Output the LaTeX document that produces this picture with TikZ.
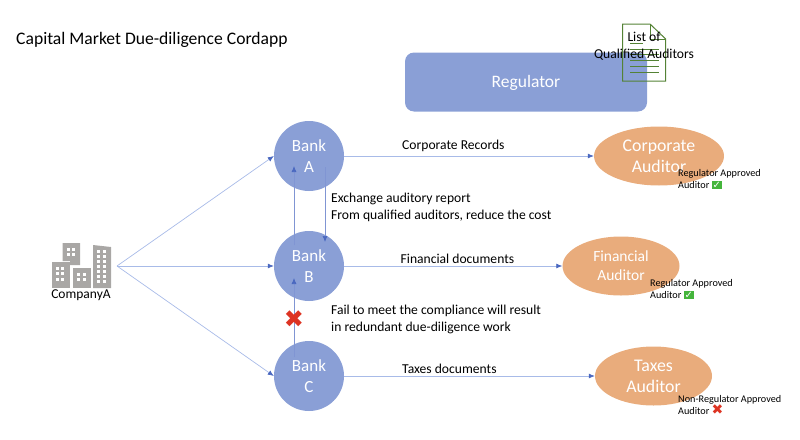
\documentclass[tikz,border=0pt]{standalone}
\usepackage{fontspec}
\setmainfont{Carlito}
\newfontfamily\dejavu{DejaVu Sans}
\usetikzlibrary{arrows.meta,shapes.geometric}
\definecolor{bluefill}{HTML}{8A9FD6}
\definecolor{orangefill}{HTML}{E9AC7C}
\definecolor{tipblue}{HTML}{4A68C0}
\definecolor{lineblue}{HTML}{A8BBE8}
\definecolor{docgreen}{HTML}{548235}
\definecolor{okgreen}{HTML}{45B53C}
\definecolor{nored}{HTML}{DD3322}
\definecolor{towergray}{HTML}{A9A7A5}
\newcommand{\okmark}{{\setlength{\fboxsep}{0.8pt}\colorbox{okgreen}{\textcolor{white}{\dejavu\fontsize{10}{9}\selectfont ✓}}}}
\newcommand{\nomark}{\textcolor{nored}{\dejavu\fontsize{14}{12}\selectfont ✖}}
\tikzset{
  bank/.style={circle, fill=bluefill, text=white, minimum size=70pt, inner sep=0pt, align=center, font=\fontsize{17}{21.5}\selectfont},
  auditor/.style={ellipse, fill=orangefill, text=white, minimum height=59pt, inner sep=0pt, align=center, font=\fontsize{17.8}{21}\selectfont},
  link/.style={draw=lineblue, line width=0.7pt, -{Latex[length=6pt,width=5pt,color=tipblue]}},
  uplink/.style={draw=tipblue!70, line width=0.7pt, -{Latex[length=6pt,width=5pt,color=tipblue]}},
  note/.style={anchor=west, align=left, font=\fontsize{13.6}{16.5}\selectfont, inner sep=0pt},
  tiny note/.style={anchor=west, align=left, font=\fontsize{10.2}{12}\selectfont, inner sep=0pt},
  tower/.style={fill=towergray, draw=none},
  pane/.style={fill=white, draw=none}
}
\begin{document}
\begin{tikzpicture}[x=1pt, y=-1pt]
  \useasboundingbox (0, 0) rectangle (800, 439);
  \node (title) [anchor=west, inner sep=0pt, font=\fontsize{17.6}{20}\selectfont] at (16, 40) {Capital Market Due-diligence Cordapp};
  % regulator and the list
  \node (regulator) [fill=bluefill, rounded corners=9pt, minimum width=242pt, minimum height=59pt, text=white, text depth=1pt, font=\fontsize{17.5}{20}\selectfont] at (526, 82) {Regulator};
  \draw[docgreen, line width=1pt] (622.7, 24) -- (650, 24) -- (665.7, 39) -- (665.7, 81) -- (622.7, 81) -- cycle;
  \draw[docgreen, line width=1pt] (650, 24) -- (650, 39) -- (665.7, 39);
  \draw[docgreen, line width=1pt] (630, 43) -- (643, 43);
  \foreach \y in {49, 54.5, 60, 66, 72}
  \draw[docgreen, line width=1pt] (630, \y) -- (659, \y);
  \node (list) [align=center, inner sep=0pt, font=\fontsize{13.6}{16.5}\selectfont] at (644, 46) {List of \\ Qualified Auditors};
  % company
  \draw[tower] (62.7, 243) -- (80, 243) -- (80, 265) -- (70, 265) -- (70, 261) -- (62.7, 261) -- cycle;
  \draw[tower] (52, 262) rectangle (70, 288);
  \draw[tower] (73, 268) rectangle (91, 288);
  \draw[tower] (93, 245) -- (111, 247) -- (111, 288) -- (93, 288) -- cycle;
  \foreach \x in {67, 72} \foreach \y in {248, 253}
  \fill[pane] (\x, \y) rectangle +(3, 3);
  \foreach \x in {56, 61} \foreach \y in {267, 272, 278}
  \fill[pane] (\x, \y) rectangle +(3, 3);
  \foreach \x in {77, 83} \foreach \y in {273, 278}
  \fill[pane] (\x, \y) rectangle +(3, 3);
  \foreach \x in {97, 103} \foreach \y in {250, 255, 260, 265, 270, 275, 280}
  \fill[pane] (\x, \y) rectangle +(3, 3);
  \node (company) [inner sep=0pt, font=\fontsize{13.5}{14}\selectfont] at (81, 295.5) {CompanyA};
  \coordinate (fan) at (117, 266);
  % banks
  \node (a) [bank] at (309, 156) {Bank \\ A};
  \node (b) [bank] at (309, 266) {Bank \\ B};
  \node (c) [bank] at (309, 376) {Bank \\ C};
  % auditors
  \node (corp) [auditor, minimum width=130pt] at (659, 156) {Corporate \\ Auditor};
  \node (fin) [auditor, minimum width=117pt, font=\fontsize{15.5}{19}\selectfont] at (621, 266) {Financial \\ Auditor};
  \node (tax) [auditor, minimum width=117pt] at (653.5, 376) {Taxes \\ Auditor};
  \draw[link] (fan) -- (a.west);
  \draw[link] (fan) -- (b.west);
  \draw[link] (fan) -- (c.west);
  \draw[link] (a) -- (corp);
  \draw[link] (b) -- (fin);
  \draw[link] (c) -- (tax);
  % between the banks
  \coordinate (bup) at (294, 245);
  \coordinate (aup) at (294, 166);
  \coordinate (adown) at (325, 167);
  \coordinate (bdown) at (325, 242);
  \coordinate (cup) at (294, 357);
  \coordinate (bin) at (294, 278);
  \draw[uplink] (bup) -- (aup);
  \draw[uplink] (adown) -- (bdown);
  \draw[uplink] (cup) -- (bin);
  \node (cross) [text=nored, inner sep=0pt, font=\dejavu\fontsize{24}{24}\selectfont] at (294, 319) {✖};
  % labels
  \node (corplabel) [note] at (402, 145.5) {Corporate Records};
  \node (finlabel) [note] at (400.5, 258.5) {Financial documents};
  \node (taxlabel) [note] at (402, 369) {Taxes documents};
  \node (exchange) [note] at (331, 207.5) {Exchange auditory report \\ From qualified auditors, reduce the cost};
  \node (fail) [note] at (331, 319.5) {Fail to meet the compliance will result \\ in redundant due-diligence work};
  \node (corpnote) [tiny note] at (678, 179) {Regulator Approved \\ Auditor \okmark};
  \node (finnote) [tiny note] at (650, 289) {Regulator Approved \\ Auditor \okmark};
  \node (taxnote) [tiny note] at (678, 405) {Non-Regulator Approved \\ Auditor \nomark};
\end{tikzpicture}
\end{document}
